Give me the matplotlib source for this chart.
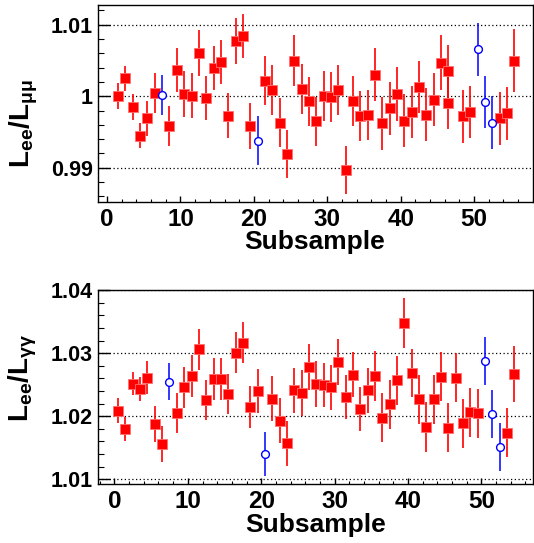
import numpy as np
import matplotlib
matplotlib.use('Agg')
import matplotlib.pyplot as plt
from matplotlib.ticker import MultipleLocator


# fonts: Helvetica-like bold everywhere
plt.rcParams['font.family'] = ['Liberation Sans', 'DejaVu Sans']
plt.rcParams['font.weight'] = 'bold'
plt.rcParams['mathtext.fontset'] = 'custom'
plt.rcParams['mathtext.rm'] = 'Liberation Sans'
plt.rcParams['mathtext.bf'] = 'Liberation Sans:bold'
plt.rcParams['mathtext.it'] = 'Liberation Sans:italic'

# ---- upper panel: Lee/Lmumu ----
top_red_x = [1.5, 2.5, 3.5, 4.5, 5.5, 6.5,
             8.5, 9.5, 10.5, 11.5, 12.5, 13.5, 14.5, 15.5, 16.5, 17.5, 18.5, 19.5,
             21.5, 22.5, 23.5, 24.5, 25.5, 26.5, 27.5, 28.5, 29.5, 30.5, 31.5, 32.5,
             33.5, 34.5, 35.5, 36.5, 37.5, 38.5, 39.5, 40.5, 41.5, 42.5, 43.5, 44.5,
             45.5, 46.5, 46.5, 48.5, 49.5, 53.5, 54.5, 55.5]
top_red_y = [1.0000, 1.0025, 0.9985, 0.9945, 0.9969, 1.0005,
             0.9959, 1.0037, 1.0003, 1.0001, 1.0060, 0.9998, 1.0040, 1.0048, 0.9973, 1.0077, 1.0084, 0.9958,
             1.0022, 1.0009, 0.9963, 0.9919, 1.0050, 1.0010, 0.9993, 0.9965, 1.0000, 0.9999, 1.0009, 0.9897,
             0.9993, 0.9973, 0.9974, 1.0030, 0.9962, 0.9983, 1.0003, 0.9966, 0.9978, 1.0013, 0.9974, 0.9995,
             1.0047, 1.0035, 0.9991, 0.9972, 0.9978, 0.9969, 0.9976, 1.0050]
top_red_err = [0.0018, 0.0018, 0.0018, 0.0018, 0.0024, 0.0028,
               0.0028, 0.0031, 0.0032, 0.0031, 0.0032, 0.0031, 0.0031, 0.0031, 0.0031, 0.0032, 0.0031, 0.0032,
               0.0034, 0.0035, 0.0034, 0.0034, 0.0035, 0.0035, 0.0034, 0.0034, 0.0035, 0.0035, 0.0035, 0.0034,
               0.0035, 0.0035, 0.0035, 0.0037, 0.0037, 0.0037, 0.0038, 0.0037, 0.0037, 0.0037, 0.0037, 0.0037,
               0.0038, 0.0037, 0.0037, 0.0037, 0.0037, 0.0037, 0.0037, 0.0044]
top_blue_x = [7.5, 20.5, 50.5, 51.5, 52.5]
top_blue_y = [1.0002, 0.9938, 1.0066, 0.9992, 0.9963]
top_blue_err = [0.0028, 0.0034, 0.0037, 0.0037, 0.0037]

# ---- lower panel: Lee/Lgammagamma ----
bot_red_x = [0.5, 1.5, 2.5, 3.5, 4.5, 5.5, 6.5,
             8.5, 9.5, 10.5, 11.5, 12.5, 13.5, 14.5, 15.5, 16.5, 17.5, 18.5, 19.5,
             21.5, 22.5, 23.5, 24.5, 25.5, 26.5, 27.5, 28.5, 29.5, 30.5, 31.5, 32.5,
             33.5, 34.5, 35.5, 36.5, 37.5, 38.5, 39.5, 40.5, 41.5, 42.5, 43.5, 44.5,
             45.5, 46.5, 47.5, 48.5, 49.5, 53.5, 54.5]
bot_red_y = [1.0209, 1.0180, 1.0252, 1.0243, 1.0261, 1.0188, 1.0156,
             1.0205, 1.0246, 1.0264, 1.0306, 1.0226, 1.0259, 1.0259, 1.0235, 1.0301, 1.0317, 1.0215, 1.0240,
             1.0228, 1.0193, 1.0157, 1.0241, 1.0237, 1.0278, 1.0251, 1.0250, 1.0246, 1.0286, 1.0230, 1.0266,
             1.0212, 1.0241, 1.0264, 1.0198, 1.0219, 1.0257, 1.0348, 1.0268, 1.0227, 1.0183, 1.0227, 1.0263,
             1.0182, 1.0261, 1.0189, 1.0206, 1.0205, 1.0174, 1.0267]
bot_red_err = [0.0020, 0.0019, 0.0019, 0.0019, 0.0026, 0.0029, 0.0029,
               0.0032, 0.0033, 0.0033, 0.0033, 0.0032, 0.0033, 0.0033, 0.0032, 0.0033, 0.0033, 0.0033, 0.0035,
               0.0036, 0.0036, 0.0036, 0.0036, 0.0036, 0.0036, 0.0036, 0.0035, 0.0036, 0.0036, 0.0035, 0.0036,
               0.0035, 0.0036, 0.0039, 0.0039, 0.0039, 0.0039, 0.0039, 0.0038, 0.0039, 0.0039, 0.0039, 0.0039,
               0.0039, 0.0039, 0.0039, 0.0039, 0.0039, 0.0039, 0.0045]
bot_blue_x = [7.5, 20.5, 50.5, 51.5, 52.5]
bot_blue_y = [1.0255, 1.0140, 1.0288, 1.0204, 1.0151]
bot_blue_err = [0.0029, 0.0035, 0.0038, 0.0038, 0.0038]


fig = plt.figure(figsize=(5.34, 5.43), dpi=100)
ax1 = fig.add_axes([0.1841, 0.6280, 0.8135, 0.3619])
ax2 = fig.add_axes([0.1841, 0.1081, 0.8135, 0.3573])


def draw_panel(ax, rx, ry, re, bx, by, be):
    ax.errorbar(rx, ry, yerr=re, fmt='s', color='red', ecolor='red',
                elinewidth=1.2, markersize=6.6, markeredgecolor='#ff7070',
                markeredgewidth=0.6, capsize=0, zorder=3)
    ax.errorbar(bx, by, yerr=be, fmt='o', color='blue', ecolor='blue',
                elinewidth=1.1, markersize=5.6, markerfacecolor='white',
                markeredgecolor='blue', markeredgewidth=1.0, capsize=0, zorder=3)
    ax.xaxis.set_major_locator(MultipleLocator(10))
    ax.xaxis.set_minor_locator(MultipleLocator(2))
    ax.yaxis.set_minor_locator(MultipleLocator(0.002))
    ax.tick_params(axis='y', which='major', direction='in', length=8.6, width=1,
                   labelsize=15.5, pad=4, right=False)
    ax.tick_params(axis='y', which='minor', direction='in', length=4.3, width=0.8, right=False)
    ax.tick_params(axis='x', which='major', direction='in', length=4.2, width=1,
                   labelsize=17.5, pad=4, top=False)
    ax.tick_params(axis='x', which='minor', direction='in', length=2.0, width=0.8, top=False)
    ax.grid(True, axis='y', which='major', color='black', linestyle=(0, (1, 2)), linewidth=0.9)
    for s in ax.spines.values():
        s.set_linewidth(1.0)
    ax.set_axisbelow(True)


draw_panel(ax1, top_red_x, top_red_y, top_red_err, top_blue_x, top_blue_y, top_blue_err)
ax1.set_xlim(-1.2, 58.0)
ax1.set_ylim(0.9852, 1.0127)
ax1.set_yticks([0.99, 1.0, 1.01])
ax1.set_yticklabels(['0.99', '1', '1.01'])

draw_panel(ax2, bot_red_x, bot_red_y, bot_red_err, bot_blue_x, bot_blue_y, bot_blue_err)
ax2.set_xlim(-2.2, 57.0)
ax2.set_ylim(1.0092, 1.04)
ax2.set_yticks([1.01, 1.02, 1.03, 1.04])
ax2.set_yticklabels(['1.01', '1.02', '1.03', '1.04'])

for a in (ax1, ax2):
    for lab in a.get_xticklabels() + a.get_yticklabels():
        lab.set_fontweight('bold')

# axis titles
fig.text(315 / 534, 1 - 242 / 543, 'Subsample', ha='center', va='center',
         fontsize=19, fontweight='bold')
fig.text(316 / 534, 1 - 525 / 543, 'Subsample', ha='center', va='center',
         fontsize=19, fontweight='bold')
fig.text(24 / 534, 1 - 123.5 / 543, r'$\mathbf{L_{ee}/L}_{\mathrm{\mu\mu}}$', rotation=90,
         ha='center', va='center', fontsize=20)
fig.text(23 / 534, 1 - 377.5 / 543, r'$\mathbf{L_{ee}/L}_{\mathrm{\gamma\gamma}}$', rotation=90,
         ha='center', va='center', fontsize=20)

plt.savefig('out.png', dpi=100)
plt.close('all')
